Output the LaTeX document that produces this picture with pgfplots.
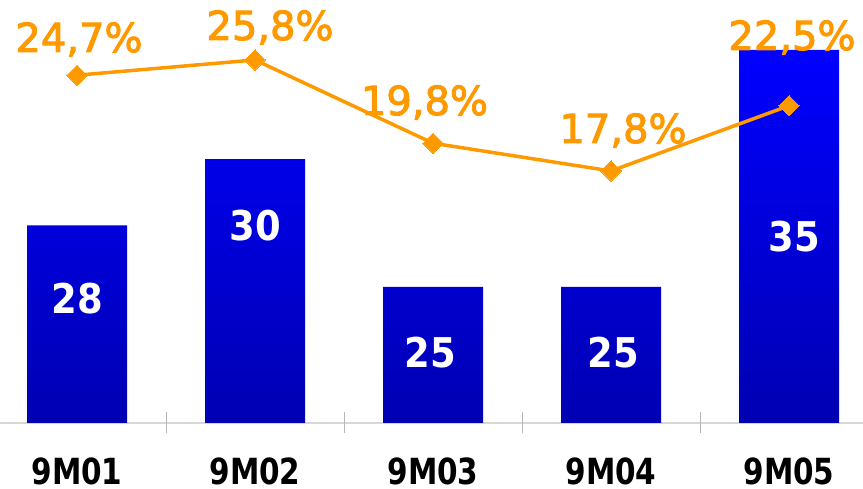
\documentclass[border=0pt]{standalone}
\usepackage{pgfplots}
\pgfplotsset{compat=1.18}
\usepackage{fontspec}
\setmainfont{DejaVu Sans}
\newfontfamily\pctfont[FakeBold=2.5]{DejaVu Sans}
\newfontfamily\lblfont[FakeStretch=0.9]{DejaVu Sans Bold}
\newfontfamily\catfont[FakeStretch=0.82]{DejaVu Sans Bold}
\definecolor{barblue}{RGB}{0,0,255}
\definecolor{barmid}{RGB}{0,0,246}
\definecolor{bardark}{RGB}{0,0,178}
\definecolor{lineorange}{RGB}{255,153,0}
\definecolor{axgray}{RGB}{215,215,215}
\begin{document}
\begin{tikzpicture}
\begin{axis}[
  scale only axis, width=863pt, height=423pt,
  xmin=-0.4326, xmax=4.4157, ymin=19.26, ymax=37.11,
  clip=false,
  axis x line*=bottom, axis y line=none,
  x axis line style={draw=axgray, line width=1.5pt, -},
  xtick={0,1,2,3,4},
  xticklabels={9M01,9M02,9M03,9M04,9M05},
  major tick length=0pt,
  xticklabel style={anchor=base, inner sep=0pt, yshift=-62pt,
    font=\catfont\fontsize{36}{40}\selectfont, text=black},
  extra x ticks={0.5,1.5,2.5,3.5},
  extra x tick labels={},
  extra x tick style={major tick length=21pt, tick align=center,
    tick style={draw=axgray!85!black, line width=1pt}},
  ybar, bar width=100pt,
]
\addplot[draw=none, top color=barblue, middle color=barmid, bottom color=bardark]
  coordinates {(0,27.6) (1,30.4) (2,25) (3,25) (4,35)};
% bar value labels
\begin{scope}[every node/.style={inner sep=0pt, anchor=center, text=white,
    font=\lblfont\fontsize{41}{44}\selectfont}]
\node at (rel axis cs:0.08922,0.29314) {28};
\node at (rel axis cs:0.29548,0.46572) {30};
\node at (rel axis cs:0.49884,0.16548) {25};
\node at (rel axis cs:0.71031,0.16548) {25};
\node at (rel axis cs:0.92005,0.43972) {35};
\end{scope}
% percentage labels
\begin{scope}[every node/.style={inner sep=0pt, anchor=base, text=lineorange,
    font=\pctfont\fontsize{40}{44}\selectfont}]
\node at (rel axis cs:0.09154,0.87707) {24,7\%};
\node at (rel axis cs:0.31286,0.90544) {25,8\%};
\node at (rel axis cs:0.49189,0.72813) {19,8\%};
\node at (rel axis cs:0.72190,0.66194) {17,8\%};
\node at (rel axis cs:0.91773,0.88180) {22,5\%};
\end{scope}
\end{axis}
\begin{axis}[
  scale only axis, width=863pt, height=423pt,
  xmin=-0.4326, xmax=4.4157, ymin=-0.36, ymax=30.12,
  clip=false, hide axis,
]
\addplot[color=lineorange, line width=3.5pt, mark=square*,
  mark size=7.2pt, mark options={rotate=45, line width=0pt}]
  coordinates {(0,24.7) (1,25.8) (2,19.8) (3,17.8) (4,22.5)};
\end{axis}
\pgfresetboundingbox
\path[use as bounding box] (0pt,-66pt) rectangle (863pt,423pt);
\end{tikzpicture}
\end{document}
